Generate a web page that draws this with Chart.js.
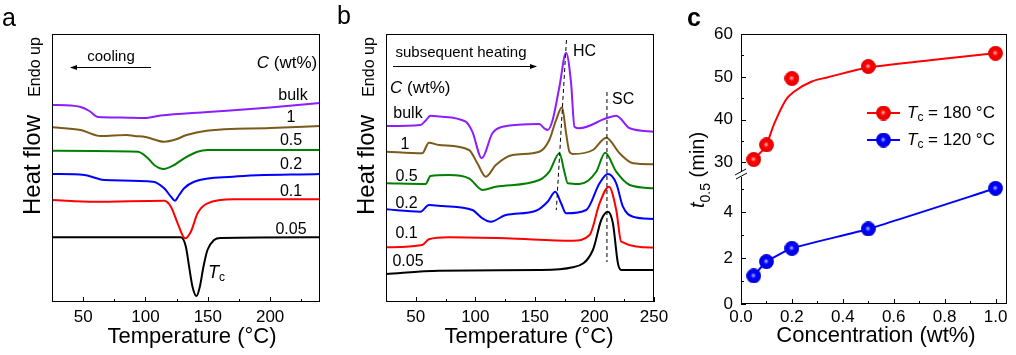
<!DOCTYPE html>
<html><head><meta charset="utf-8">
<script src="https://cdn.jsdelivr.net/npm/chart.js@4/dist/chart.umd.min.js"></script>
<style>
body{margin:0;background:#fff;width:1016px;height:355px;position:relative;overflow:hidden}
canvas{position:absolute;top:0}
</style></head><body>
<canvas id="ca" width="336" height="355" style="left:0px"></canvas>
<canvas id="cb" width="344" height="355" style="left:336px"></canvas>
<canvas id="cc" width="336" height="355" style="left:680px"></canvas>
<script>
// ---------------- DATA ----------------
const seriesNames = ['bulk', '1', '0.5', '0.2', '0.1', '0.05'];
const seriesColors = ['#8C1EFF', '#7B5A1A', '#008000', '#0000FF', '#FF0000', '#000000'];

// Panel a: cooling curves (temperature °C, heat flow arb. units, offset)
const aBulkT = [25, 40, 48, 55, 62, 80, 99, 112, 150, 200, 240];
const aBulkH = [197, 196.5, 195, 191, 185, 184.5, 184, 186.5, 190, 194.5, 199];
const a1T = [25, 48, 64, 85, 91, 100, 115, 124, 133, 149, 200, 240];
const a1H = [174.7, 172, 166, 167, 166, 165, 160.3, 162.5, 167, 171.3, 174, 176];
const a05T = [25, 94, 102, 107, 114.5, 123, 131, 141.7, 150, 240];
const a05H = [151.3, 150.3, 143.7, 137, 133, 137, 143.7, 150.3, 152, 152];
const a02T = [25, 51, 60, 67, 106, 115, 120.4, 123.6, 127, 131, 139, 170, 240];
const a02H = [128, 127, 124, 122, 120.3, 113.7, 105.3, 101.3, 107, 113.7, 120.3, 125.3, 128];
const a01T = [25, 59, 115, 120.4, 125.8, 131.8, 136.4, 141.8, 149.7, 171, 240];
const a01H = [102, 100.3, 101.3, 95.3, 78.7, 63.7, 70.3, 88.7, 98.7, 102.7, 102.7];
const a005T = [25, 128.4, 132.4, 135, 137.7, 141, 143.6, 146.5, 149.7, 155, 160.4, 240];
const a005H = [64.7, 64.7, 55.3, 35.3, 15.3, 6, 15.3, 35.3, 52, 62, 64, 64.7];

// Panel b: subsequent heating curves
const bBulkT = [24.4, 54, 58, 62.4, 70, 91.9, 97.5, 105.4, 114.3, 122.8, 153.7, 157.9, 160.7, 164.9, 170.6, 176.2, 180.4, 183.2, 187.4, 209.9, 218.3, 229.6, 250];
const bBulkH = [176, 177, 181, 186.3, 185.5, 180.3, 170.3, 143.7, 168.7, 175.3, 178, 173.7, 172, 182, 215.3, 249.3, 218.7, 175.3, 173.7, 183.7, 186.3, 173.7, 170.3];
const b1T = [24.4, 55.4, 61, 69.4, 94.7, 101.7, 108.8, 117.2, 131.3, 153.7, 162.1, 167.8, 172.8, 176.2, 179, 181.8, 198.7, 209.9, 221.1, 232.4, 250];
const b1H = [150.3, 148.7, 159.3, 157, 152, 138.7, 125.3, 137, 147, 150.3, 162, 182, 194.7, 168.7, 150.3, 148, 152, 164.3, 148.7, 138.7, 137.7];
const b05T = [24.4, 58.2, 62.4, 77.8, 94.7, 106, 117.2, 153.7, 162.1, 170.6, 174.8, 177.6, 187.4, 201.5, 209, 218.3, 229.6, 250];
const b05H = [118.7, 118, 126, 127, 123.7, 112, 115.3, 122, 130.3, 148.7, 130, 118.7, 118, 130.3, 149.3, 130.3, 117, 113.7];
const b02T = [24.4, 54, 61, 72.2, 97.5, 106, 113, 125.6, 150.9, 160.7, 167.2, 172, 176.2, 193.1, 204.3, 211.3, 218.3, 223.9, 232.4, 250];
const b02H = [92.7, 90.3, 97, 96, 92, 83.7, 80.3, 87, 91.3, 100.3, 110.3, 98.7, 88.7, 92, 118.7, 128, 118.7, 95.3, 85.3, 83];
const b01T = [24.4, 55.4, 61, 77.8, 125.6, 181.8, 195.9, 204.3, 212.2, 218.3, 222.5, 250];
const b01H = [54.7, 57, 62.7, 64.7, 63.7, 61.3, 67, 98.7, 115.3, 92, 60.3, 54.3];
const b005T = [24.4, 69.4, 153.7, 181.8, 198.7, 205.7, 211.3, 215.5, 219.7, 222.5, 250];
const b005H = [28, 31.3, 32, 34.7, 52, 82, 90.3, 78.7, 38.7, 32, 32];
// guide lines (HC, SC melting peaks)
const hcLineT = [176.5, 168];
const hcLineH = [262, 92];
const scLineT = [210.5, 210.5];
const scLineH = [210, 40];

// Panel c: half-time of crystallization
const conc = [0.05, 0.1, 0.2, 0.5, 1.0];
const t180 = [30.7, 34.1, 49.6, 52.4, 55.5];
const t120 = [1.22, 1.84, 2.42, 3.26, 5.03];
const fit180C = [0.05, 0.099, 0.131, 0.176, 0.208, 0.278, 0.342, 0.496, 0.75, 0.996];
const fit180V = [30.7, 34.1, 39.1, 44.6, 46.5, 48.9, 49.9, 52.1, 53.9, 55.5];
const legendLabels = ['= 180 °C', '= 120 °C'];

const tempTicks = [50, 100, 150, 200];
const tempMinorA = [75, 125, 175, 225];
const tempTicksB = [50, 100, 150, 200, 250];
const tempMinorB = [75, 125, 175, 225];
const concTicks = [0, 0.2, 0.4, 0.6, 0.8, 1.0];
const concMinor = [0.1, 0.3, 0.5, 0.7, 0.9];
const topTicks = [30, 40, 50, 60];
const topMinor = [35, 45, 55];
const botTicks = [0, 2, 4];
const botMinor = [1, 3, 5];

// ---------------- HELPERS ----------------
const FAM = '"Liberation Sans", Arial, sans-serif';
Chart.defaults.font.family = FAM;
Chart.defaults.color = '#000';
const pts = (xs, ys) => xs.map((x, i) => ({x, y: ys[i]}));

function fnt(p, size) {
  return (p.it ? 'italic ' : '') + (p.b ? 'bold ' : '') + (p.sub ? Math.round(size * 0.68) : size) + 'px ' + FAM;
}
function rich(ctx, parts, x, y, size, align) {
  let w = 0;
  parts.forEach(p => { ctx.font = fnt(p, size); p.w = ctx.measureText(p.t).width; w += p.w; });
  let cx = align === 'center' ? x - w / 2 : (align === 'right' ? x - w : x);
  ctx.textAlign = 'left';
  parts.forEach(p => { ctx.font = fnt(p, size); ctx.fillText(p.t, cx, y + (p.sub ? size * 0.28 : 0)); cx += p.w; });
}
function rotText(ctx, parts, cx, cy, size, align) {
  ctx.save(); ctx.translate(cx, cy); ctx.rotate(-Math.PI / 2);
  rich(ctx, parts, 0, 0, size, align || 'center');
  ctx.restore();
}
function arrow(ctx, x1, y, x2) {
  ctx.save(); ctx.strokeStyle = '#000'; ctx.fillStyle = '#000'; ctx.lineWidth = 1;
  ctx.beginPath(); ctx.moveTo(x1, y + 0.5); ctx.lineTo(x2, y + 0.5); ctx.stroke();
  const d = x2 > x1 ? 1 : -1;
  ctx.beginPath(); ctx.moveTo(x2 + d * 1, y + 0.5); ctx.lineTo(x2 - d * 6, y - 2); ctx.lineTo(x2 - d * 6, y + 3); ctx.closePath(); ctx.fill();
  ctx.restore();
}
function frameAndTicks(chart, specs) {
  const ctx = chart.ctx, a = chart.chartArea;
  ctx.save(); ctx.strokeStyle = '#000'; ctx.lineWidth = 1;
  ctx.strokeRect(Math.round(a.left) + 0.5, Math.round(a.top) + 0.5, Math.round(a.right - a.left) - 1, Math.round(a.bottom - a.top) - 1);
  specs.forEach(([id, major, minor]) => {
    const s = chart.scales[id];
    [[major, 5], [minor, 3]].forEach(([vals, len]) => vals.forEach(v => {
      const p = Math.round(s.getPixelForValue(v)) + 0.5;
      ctx.beginPath();
      if (s.isHorizontal()) { ctx.moveTo(p, a.bottom); ctx.lineTo(p, a.bottom - len); }
      else { ctx.moveTo(a.left, p); ctx.lineTo(a.left + len, p); }
      ctx.stroke();
    }));
  });
  ctx.restore();
}
function sphere(color, light, mid, dark) {
  const c = document.createElement('canvas'); c.width = 15; c.height = 15;
  const g = c.getContext('2d');
  const gr = g.createRadialGradient(7, 7, 0, 7.5, 7.5, 7.5);
  gr.addColorStop(0, light); gr.addColorStop(0.14, mid); gr.addColorStop(0.38, color); gr.addColorStop(1, dark);
  g.fillStyle = gr; g.beginPath(); g.arc(7.5, 7.5, 7.4, 0, Math.PI * 2); g.fill();
  return c;
}
const redBall = sphere('#FF0000', '#FFE8E8', '#FF7070', '#E00000');
const blueBall = sphere('#0000FF', '#E8E8FF', '#7070FF', '#0000D8');

function curve(xs, ys, color) {
  return {data: pts(xs, ys), borderColor: color, borderWidth: 2, pointRadius: 0, cubicInterpolationMode: 'monotone', fill: false};
}
function dashed(xs, ys) {
  return {data: pts(xs, ys), borderColor: '#000', borderWidth: 1, borderDash: [4, 3], pointRadius: 0, tension: 0, fill: false};
}
function xAxis(min, max, ticks, h, pad) {
  return {
    type: 'linear', min, max,
    afterBuildTicks: s => { s.ticks = ticks.map(v => ({value: v})); },
    afterFit: s => { s.height = h; },
    grid: {display: false, drawTicks: false}, border: {display: false},
    ticks: {font: {size: 17}, color: '#000', padding: pad, maxRotation: 0, autoSkip: false,
      callback: v => (ticks === concTicks ? v.toFixed(1) : String(v))}
  };
}
const baseOpts = {responsive: false, animation: false, events: [],
  plugins: {legend: {display: false}, tooltip: {enabled: false}}};

// ---------------- PANEL a ----------------
const aX = [aBulkT, a1T, a05T, a02T, a01T, a005T];
const aY = [aBulkH, a1H, a05H, a02H, a01H, a005H];
new Chart(document.getElementById('ca'), {
  type: 'line',
  data: {datasets: aX.map((xs, i) => Object.assign(curve(xs, aY[i], seriesColors[i]), {label: seriesNames[i]}))},
  options: Object.assign({}, baseOpts, {
    layout: {padding: {left: 52, top: 34, right: 16, bottom: 0}},
    scales: {x: xAxis(25, 240, tempTicks, 53, 5), y: {display: false, min: 0, max: 268}}
  }),
  plugins: [{id: 'decoA', afterDraw(chart) {
    frameAndTicks(chart, [['x', tempTicks, tempMinorA]]);
    const ctx = chart.ctx; ctx.save(); ctx.fillStyle = '#000'; ctx.textBaseline = 'middle';
    rich(ctx, [{t: 'a'}], 2, 19, 25, 'left');
    rich(ctx, [{t: 'cooling'}], 111, 57, 15, 'center');
    arrow(ctx, 151, 67, 71);
    rich(ctx, [{t: 'C', it: true}, {t: ' (wt%)'}], 287, 63, 17, 'center');
    const ly = [96, 118, 141, 165, 192, 230];
    seriesNames.forEach((n, i) => rich(ctx, [{t: n}], i === 0 ? 293 : 291, ly[i], 16, 'center'));
    rich(ctx, [{t: 'T', it: true}, {t: 'c', sub: true}], 208, 273, 18, 'left');
    rotText(ctx, [{t: 'Endo up'}], 36, 67, 16);
    rotText(ctx, [{t: 'Heat flow'}], 33, 165, 24);
    rich(ctx, [{t: 'Temperature ('}, {t: '°C'}, {t: ')'}], 192, 337, 22, 'center');
    ctx.restore();
  }}]
});

// ---------------- PANEL b ----------------
const bX = [bBulkT, b1T, b05T, b02T, b01T, b005T];
const bY = [bBulkH, b1H, b05H, b02H, b01H, b005H];
new Chart(document.getElementById('cb'), {
  type: 'line',
  data: {datasets: [dashed(hcLineT, hcLineH), dashed(scLineT, scLineH)].concat(
    bX.map((xs, i) => Object.assign(curve(xs, bY[i], seriesColors[i]), {label: seriesNames[i]})))},
  options: Object.assign({}, baseOpts, {
    layout: {padding: {left: 50, top: 34, right: 26, bottom: 0}},
    scales: {x: xAxis(25, 250, tempTicksB, 53, 5), y: {display: false, min: 0, max: 268}}
  }),
  plugins: [{id: 'decoB', afterDraw(chart) {
    frameAndTicks(chart, [['x', tempTicksB, tempMinorB]]);
    const ctx = chart.ctx; ctx.save(); ctx.fillStyle = '#000'; ctx.textBaseline = 'middle';
    rich(ctx, [{t: 'b'}], 1, 17, 25, 'left');
    rich(ctx, [{t: 'subsequent heating'}], 125, 53, 15, 'center');
    arrow(ctx, 57, 66, 200);
    rich(ctx, [{t: 'HC'}], 237, 52, 16, 'left');
    rich(ctx, [{t: 'SC'}], 276, 100, 16, 'left');
    rich(ctx, [{t: 'C', it: true}, {t: ' (wt%)'}], 54, 88, 17, 'left');
    const lx = [72, 69, 70.5, 70.5, 70.5, 72], ly = [114, 145, 177, 204, 234, 262];
    seriesNames.forEach((n, i) => rich(ctx, [{t: n}], lx[i], ly[i], 16, 'center'));
    rotText(ctx, [{t: 'Endo up'}], 34, 67, 16);
    rotText(ctx, [{t: 'Heat flow'}], 31, 165, 24);
    rich(ctx, [{t: 'Temperature ('}, {t: '°C'}, {t: ')'}], 193, 337, 22, 'center');
    ctx.restore();
  }}]
});

// ---------------- PANEL c ----------------
function yAxis(min, max, ticks, weight) {
  return {
    type: 'linear', position: 'left', stack: 'tc', stackWeight: weight, min, max,
    afterBuildTicks: s => { s.ticks = ticks.map(v => ({value: v})); },
    afterFit: s => { s.width = 61; },
    grid: {display: false, drawTicks: false}, border: {display: false},
    ticks: {font: {size: 17}, color: '#000', padding: 8, autoSkip: false}
  };
}
new Chart(document.getElementById('cc'), {
  type: 'line',
  data: {datasets: [
    {label: 'Tc = 180 °C', data: pts(conc, t180), yAxisID: 'yTop', showLine: false, pointStyle: redBall, pointRadius: 7},
    {data: pts(fit180C, fit180V), yAxisID: 'yTop', borderColor: '#FF0000', borderWidth: 2, pointRadius: 0, cubicInterpolationMode: 'monotone'},
    {label: 'Tc = 120 °C', data: pts(conc, t120), yAxisID: 'yBot', borderColor: '#0000FF', borderWidth: 2, pointStyle: blueBall, pointRadius: 7, tension: 0.15}
  ]},
  options: Object.assign({}, baseOpts, {
    layout: {padding: {left: 0, top: 34, right: 3, bottom: 0}},
    scales: {
      x: xAxis(0, 1.045, concTicks, 51, 3),
      yBot: yAxis(0, 5.65, botTicks, 130),
      yTop: yAxis(27.3, 60, topTicks, 140)
    }
  }),
  plugins: [{id: 'decoC', afterDraw(chart) {
    frameAndTicks(chart, [['x', concTicks, concMinor], ['yTop', topTicks, topMinor], ['yBot', botTicks, botMinor]]);
    const ctx = chart.ctx, a = chart.chartArea;
    const b = Math.round(Math.max(chart.scales.yTop.top, chart.scales.yBot.top));
    ctx.save();
    ctx.fillStyle = '#fff'; ctx.fillRect(a.left - 2, b - 2, 5, 5);
    ctx.strokeStyle = '#000'; ctx.lineWidth = 1;
    ctx.beginPath(); ctx.moveTo(a.left - 6, b + 1); ctx.lineTo(a.left + 5, b - 5);
    ctx.moveTo(a.left - 5, b + 5); ctx.lineTo(a.left + 6, b - 1); ctx.stroke();
    ctx.fillStyle = '#000'; ctx.textBaseline = 'middle';
    rich(ctx, [{t: 'c', b: true}], 7, 19, 25, 'left');
    // legend
    const rows = [[113, '#FF0000', redBall], [140, '#0000FF', blueBall]];
    rows.forEach(([y, col, img], i) => {
      ctx.strokeStyle = col; ctx.lineWidth = 2;
      ctx.beginPath(); ctx.moveTo(187, y); ctx.lineTo(220, y); ctx.stroke();
      ctx.drawImage(img, 203.5 - 7.5, y - 7.5);
      rich(ctx, [{t: 'T', it: true}, {t: 'c', sub: true}, {t: ' ' + legendLabels[i]}], 227, y, 17, 'left');
    });
    // y title
    ctx.save(); ctx.translate(24, 208); ctx.rotate(-Math.PI / 2);
    ctx.textBaseline = 'alphabetic';
    rich(ctx, [{t: 't', it: true}, {t: '0.5', sub: true}, {t: ' (min)'}], 0, 0, 20, 'left');
    ctx.restore();
    rich(ctx, [{t: 'Concentration (wt%)'}], 196, 336, 22, 'center');
    ctx.restore();
  }}]
});
</script>
</body></html>
